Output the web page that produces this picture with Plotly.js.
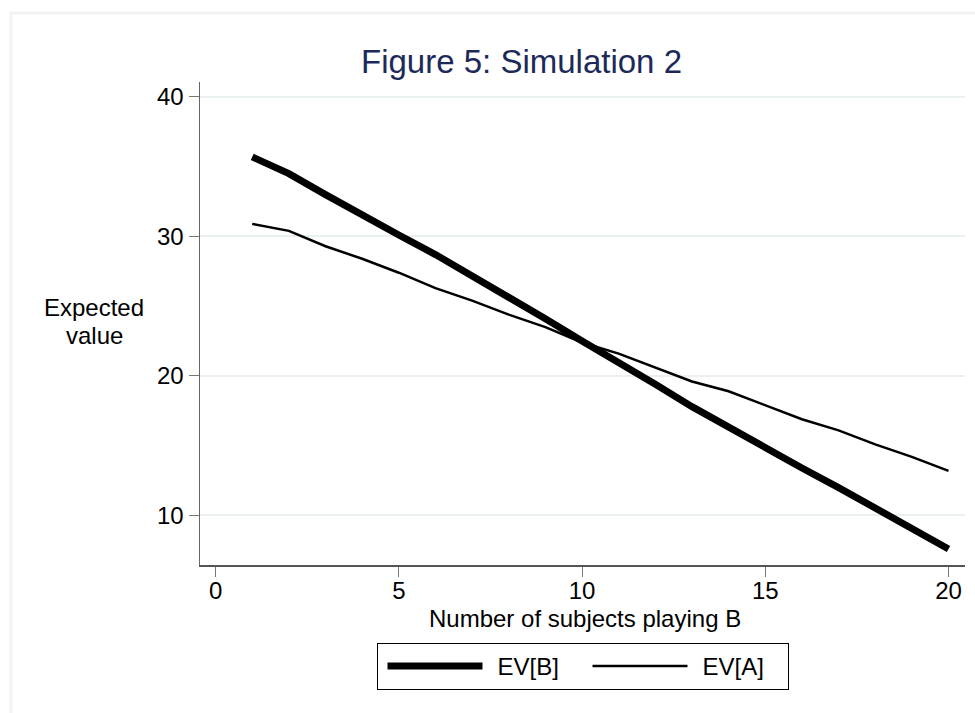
<!DOCTYPE html>
<html>
<head>
<meta charset="utf-8">
<script src="https://cdn.plot.ly/plotly-3.0.1.min.js"></script>
<style>
html,body{margin:0;padding:0;background:#ffffff;}
#chart{width:975px;height:713px;}
</style>
</head>
<body>
<div id="chart"></div>
<script>
// ---- data ----
const subjectsPlayingB = [1,2,3,4,5,6,7,8,9,10,11,12,13,14,15,16,17,18,19,20];
const evB = [35.7,34.5,33.0,31.5,30.1,28.7,27.2,25.6,24.1,22.5,21.0,19.4,17.8,16.3,14.8,13.4,12.0,10.5,9.05,7.6];
const evA = [30.9,30.4,29.3,28.4,27.4,26.3,25.4,24.4,23.5,22.4,21.6,20.6,19.6,18.9,17.9,16.9,16.1,15.1,14.2,13.2];
const seriesNames = ['EV[B]','EV[A]'];
const xTickVals = [0,5,10,15,20];
const yTickVals = [10,20,30,40];
const chartTitle = 'Figure 5: Simulation 2';
const xTitle = 'Number of subjects playing B';
const yTitleLines = ['Expected','value'];

const FONT = '"Liberation Sans", Arial, Helvetica, sans-serif';

const traces = [
  {x: subjectsPlayingB, y: evB, name: seriesNames[0], type: 'scatter', mode: 'lines',
   line: {color: '#000000', width: 7}},
  {x: subjectsPlayingB, y: evA, name: seriesNames[1], type: 'scatter', mode: 'lines',
   line: {color: '#000000', width: 2.5}}
];

// pixel helpers for paper-referenced text placement (plot area 200..965 x 82..565)
const px = v => (v - 200) / 765;
const py = v => (565 - v) / 483;

const layout = {
  width: 975, height: 713,
  paper_bgcolor: '#ffffff', plot_bgcolor: '#ffffff',
  margin: {l: 200, r: 10, t: 82, b: 148, pad: 0},
  font: {family: FONT, color: '#000000', size: 24},
  showlegend: true,
  title: {
    text: chartTitle,
    font: {family: FONT, size: 33, color: '#1c2a5a'},
    x: 521.5/975, xref: 'container', xanchor: 'center',
    y: 1 - 61/713, yref: 'container', yanchor: 'middle'
  },
  xaxis: {
    range: [-0.425, 20.45], tickvals: xTickVals, ticktext: xTickVals.map(String),
    ticks: 'outside', ticklen: 10, tickwidth: 1, tickcolor: '#777777',
    ticklabelstandoff: -6,
    showline: true, linecolor: '#555555', linewidth: 1.5,
    showgrid: false, zeroline: false,
    tickfont: {family: FONT, size: 24, color: '#000000'},
    automargin: false
  },
  yaxis: {
    range: [6.45, 41.07], tickvals: yTickVals, ticktext: yTickVals.map(String),
    ticks: 'outside', ticklen: 10, tickwidth: 1, tickcolor: '#777777',
    showline: true, linecolor: '#666666', linewidth: 1.5,
    showgrid: true, gridcolor: '#e8f0f1', gridwidth: 2, zeroline: false,
    tickfont: {family: FONT, size: 24, color: '#000000'},
    automargin: false
  },
  legend: {
    orientation: 'h', x: 0.5, xanchor: 'center', y: -0.1615, yanchor: 'top',
    bordercolor: '#000000', borderwidth: 1, bgcolor: '#ffffff',
    font: {family: FONT, size: 24, color: '#000000'},
    itemwidth: 110, entrywidth: 80, entrywidthmode: 'pixels', traceorder: 'normal'
  },
  annotations: [
    {text: yTitleLines[0], xref: 'paper', yref: 'paper', x: px(94), y: py(307),
     xanchor: 'center', yanchor: 'middle', showarrow: false,
     font: {family: FONT, size: 24, color: '#000000'}},
    {text: yTitleLines[1], xref: 'paper', yref: 'paper', x: px(94), y: py(335),
     xanchor: 'center', yanchor: 'middle', showarrow: false,
     font: {family: FONT, size: 24, color: '#000000'}},
    {text: xTitle, xref: 'paper', yref: 'paper', x: px(585), y: py(618),
     xanchor: 'center', yanchor: 'middle', showarrow: false,
     font: {family: FONT, size: 24, color: '#000000'}}
  ],
  shapes: [{
    type: 'rect', xref: 'paper', yref: 'paper', layer: 'below',
    x0: px(11), x1: px(1000), y0: py(740), y1: py(13),
    line: {color: '#f3f3f3', width: 3}, fillcolor: 'rgba(0,0,0,0)'
  }]
};

Plotly.newPlot('chart', traces, layout, {displayModeBar: false, staticPlot: true}).then(function(gd){
  // lengthen legend line samples to match the reference's long keys
  document.querySelectorAll('.legend .legendlines path').forEach(function(p){
    p.setAttribute('d', 'M10,0h95');
  });
});
</script>
</body>
</html>
